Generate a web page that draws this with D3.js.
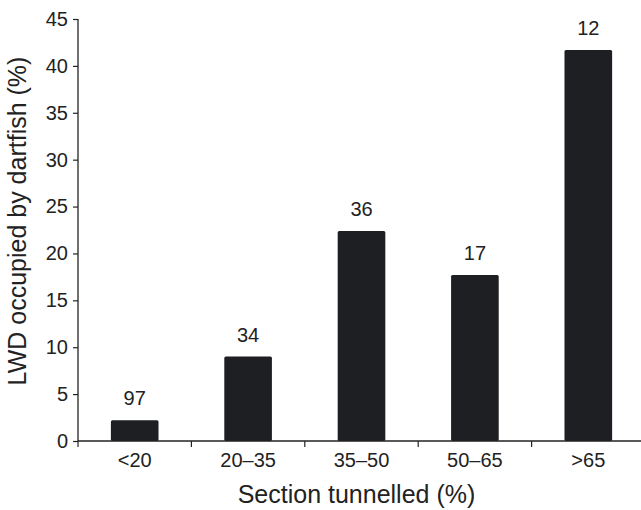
<!DOCTYPE html>
<html><head><meta charset="utf-8">
<script src="https://cdn.jsdelivr.net/npm/d3@7"></script>
<style>
html,body{margin:0;padding:0;background:#fff;}
svg text{font-family:"Liberation Sans",Arial,Helvetica,sans-serif;fill:#222;}
</style></head>
<body>
<svg id="chart" width="641" height="510"></svg>
<script>
const categories = ["<20", "20–35", "35–50", "50–65", ">65"];
const values = [2.2, 9.0, 22.4, 17.7, 41.7];
const counts = ["97", "34", "36", "17", "12"];
const yTicks = [0, 5, 10, 15, 20, 25, 30, 35, 40, 45];

(function(){
const svg = d3.select("#chart");
const mLeft = 78, mRight = 645, mTop = 19, mBottom = 441;

const x = d3.scaleBand().domain(categories).range([mLeft, mRight]).padding(0);
const y = d3.scaleLinear().domain([0, 45]).range([mBottom, mTop]);
const barW = x.bandwidth() * 0.42;

// bars
svg.append("g").selectAll("rect").data(categories).join("rect")
  .attr("x", d => x(d) + x.bandwidth()/2 - barW/2)
  .attr("y", (d,i) => y(values[i]))
  .attr("width", barW)
  .attr("height", (d,i) => y(0) - y(values[i]))
  .attr("rx", 1.5)
  .attr("fill", "#1e1f23");

// labels
svg.append("g").selectAll("text").data(categories).join("text")
  .attr("x", d => x(d) + x.bandwidth()/2)
  .attr("y", (d,i) => y(values[i]) - 15)
  .attr("text-anchor", "middle")
  .attr("font-size", 20)
  .text((d,i) => counts[i]);

// y axis
const yAxis = svg.append("g").attr("transform", `translate(${mLeft},0)`)
  .call(d3.axisLeft(y).tickValues(yTicks).tickSize(5).tickPadding(5));
yAxis.select(".domain").attr("stroke", "#222").attr("stroke-width", 1.3).attr("d", `M0,${mBottom}V${mTop}`);
yAxis.selectAll(".tick line").attr("stroke", "#222").attr("stroke-width", 1.2);
yAxis.selectAll(".tick text").attr("font-size", 20).style("fill", "#222");
yAxis.attr("font-family", null);

// x axis
const xAxis = svg.append("g").attr("transform", `translate(0,${mBottom})`)
  .call(d3.axisBottom(x).tickSize(0).tickPadding(12));
xAxis.select(".domain").attr("stroke", "#222").attr("stroke-width", 1.3).attr("d", `M${mLeft},0H${mRight}`);
xAxis.selectAll(".tick text").attr("font-size", 20).style("fill", "#222");
xAxis.attr("font-family", null);
// boundary ticks
const bounds = categories.map(c => x(c)).concat([x(categories[categories.length-1]) + x.bandwidth()]);
xAxis.append("g").selectAll("line").data(bounds).join("line")
  .attr("x1", d => d).attr("x2", d => d).attr("y1", 0).attr("y2", 6)
  .attr("stroke", "#222").attr("stroke-width", 1.2);

// titles
svg.append("text")
  .attr("x", 356.5).attr("y", 503)
  .attr("text-anchor", "middle").attr("font-size", 25)
  .text("Section tunnelled (%)");
svg.append("text")
  .attr("transform", "translate(26,221) rotate(-90)")
  .attr("text-anchor", "middle").attr("font-size", 25)
  .text("LWD occupied by dartfish (%)");
})();
</script>
</body></html>
